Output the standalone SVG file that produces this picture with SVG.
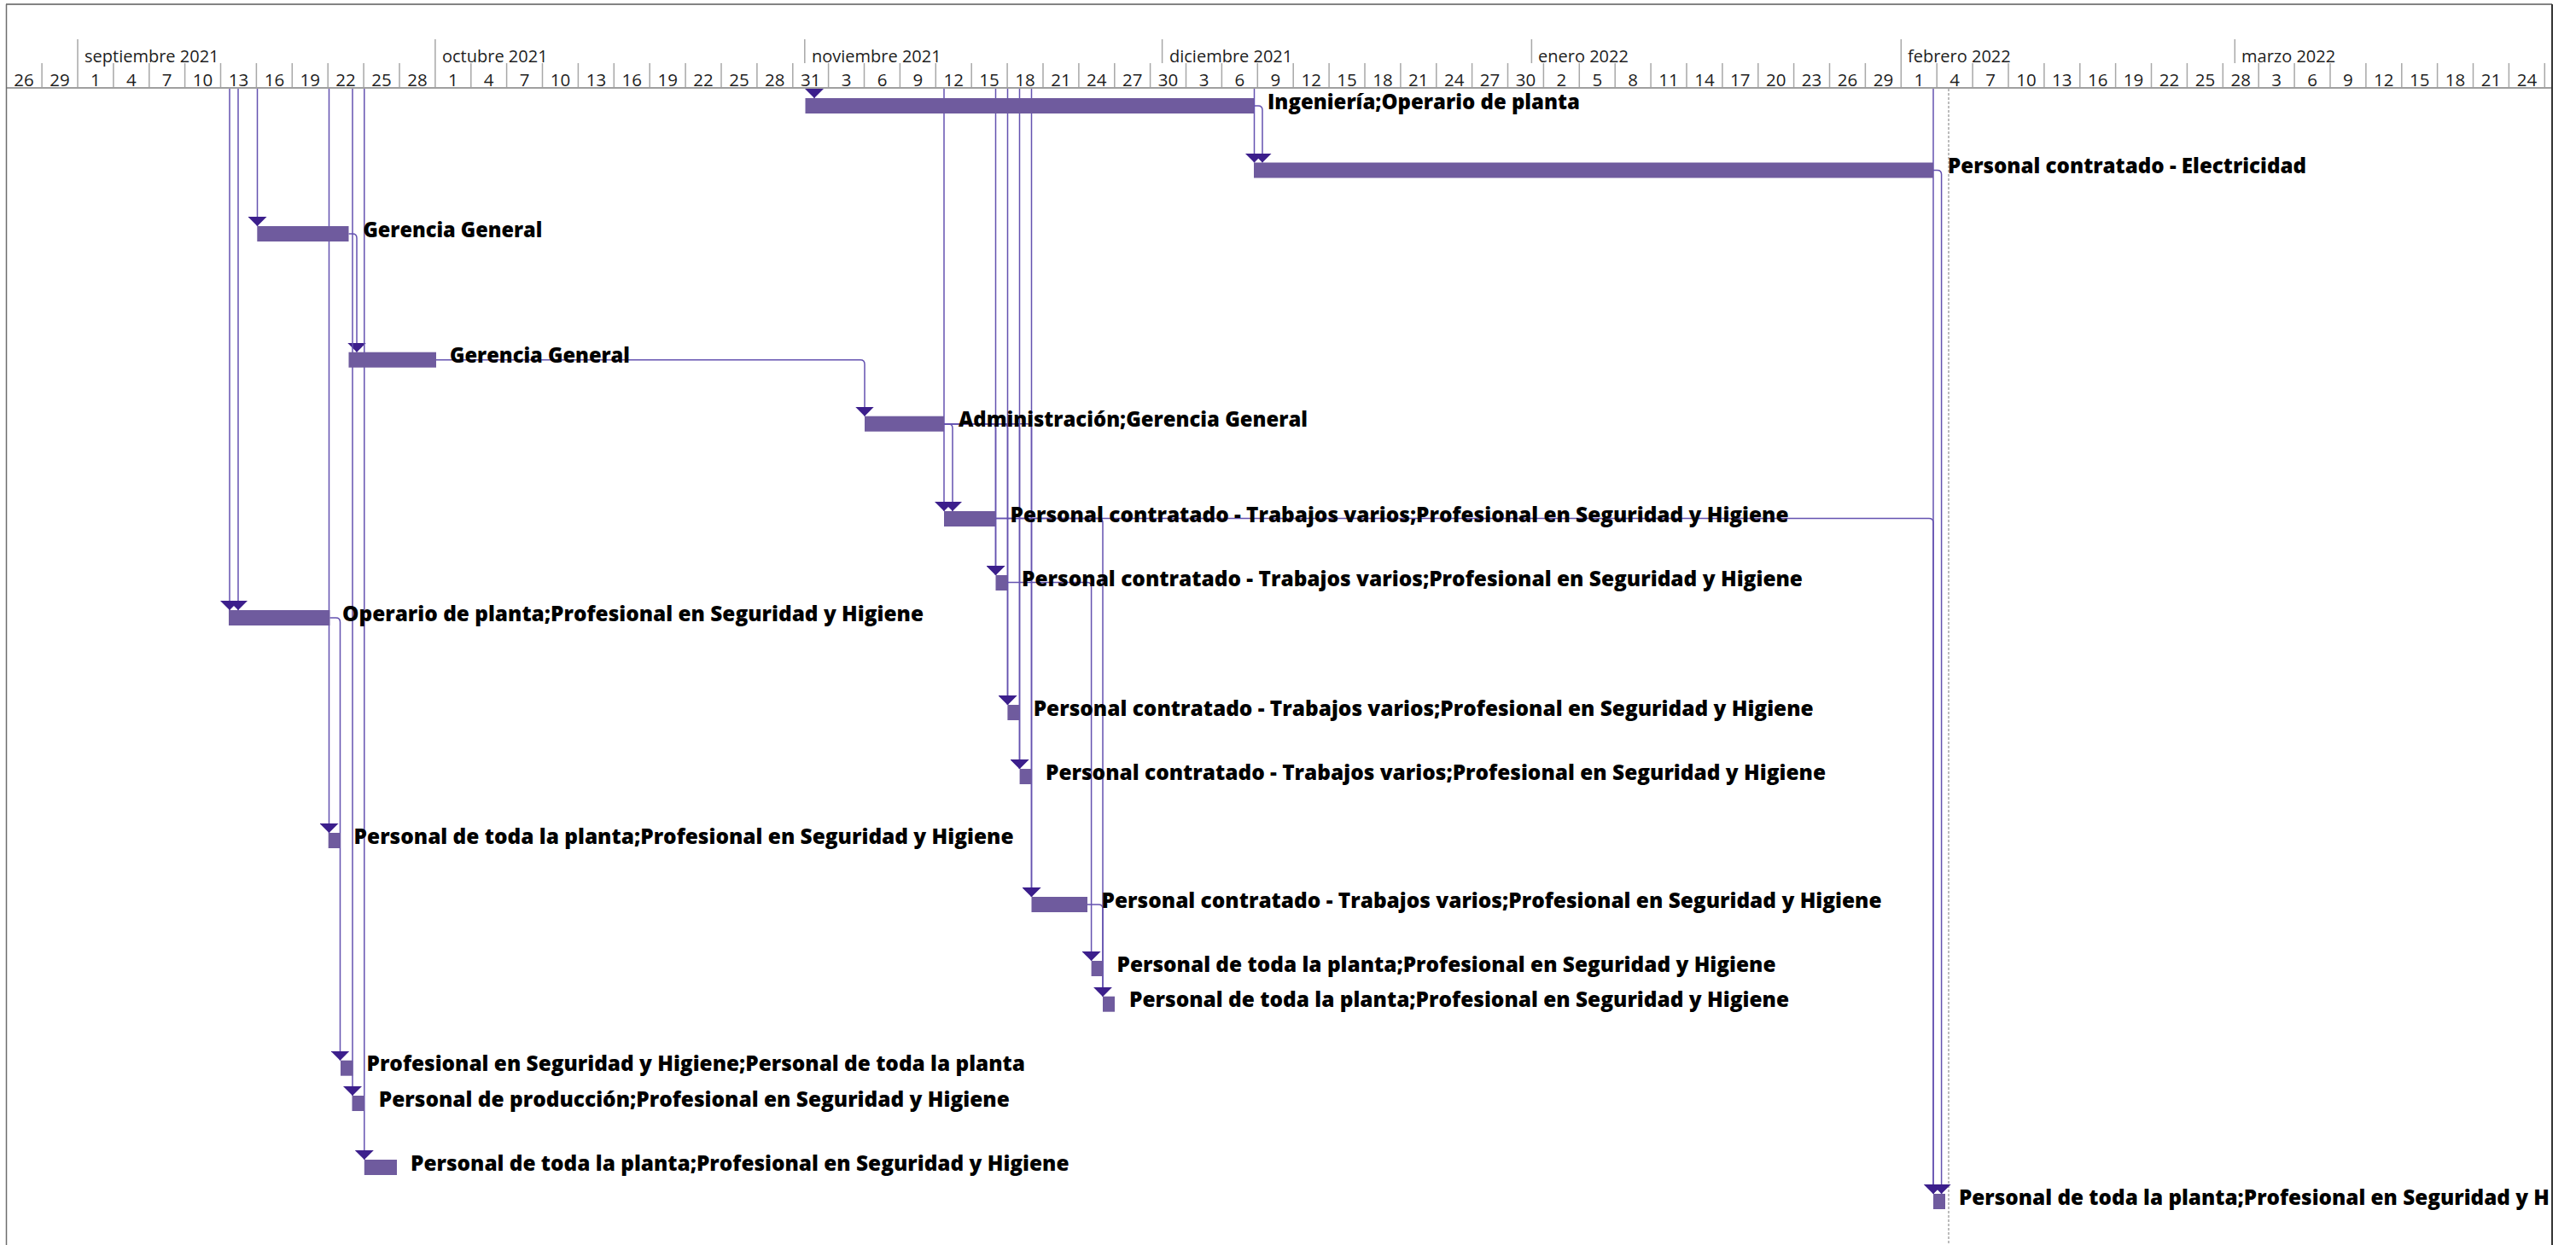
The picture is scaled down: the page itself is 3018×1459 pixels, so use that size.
<svg xmlns="http://www.w3.org/2000/svg" width="3018" height="1459" viewBox="0 0 3018 1459">
<style>
.day{font-family:"Open Sans","Liberation Sans",sans-serif;font-size:20.5px;fill:#1e1e1e;text-anchor:middle}
.mon{font-family:"Open Sans","Liberation Sans",sans-serif;font-size:20px;fill:#1e1e1e}
.lbl{font-family:"Open Sans","Liberation Sans",sans-serif;font-size:25px;font-weight:800;fill:#000}
.bar{fill:#6f5b9e}
.cn{fill:none;stroke:#6452b0;stroke-width:1.5;marker-end:url(#arr)}
.tick{fill:none;stroke:#a8a8a8;stroke-width:1.5}
</style>
<defs>
<marker id="arr" markerUnits="userSpaceOnUse" markerWidth="11" markerHeight="22" viewBox="0 0 11 22" refX="11" refY="11" orient="auto">
<path d="M0,0 L11,11 L0,22 Z" fill="#3c1f8c"/>
</marker>
<clipPath id="frame"><rect x="8" y="104" width="2981" height="1355"/></clipPath>
</defs>
<rect x="0" y="0" width="3018" height="1459" fill="#fff"/>
<g id="header">
<path class="tick" d="M49.1,74V103M91,74V103M132.9,74V103M174.8,74V103M216.6,74V103M258.5,74V103M300.4,74V103M342.3,74V103M384.2,74V103M426.1,74V103M468,74V103M509.9,74V103M551.8,74V103M593.6,74V103M635.5,74V103M677.4,74V103M719.3,74V103M761.2,74V103M803.1,74V103M845,74V103M886.9,74V103M928.8,74V103M970.6,74V103M1012.5,74V103M1054.4,74V103M1096.3,74V103M1138.2,74V103M1180.1,74V103M1222,74V103M1263.9,74V103M1305.8,74V103M1347.6,74V103M1389.5,74V103M1431.4,74V103M1473.3,74V103M1515.2,74V103M1557.1,74V103M1599,74V103M1640.9,74V103M1682.8,74V103M1724.6,74V103M1766.5,74V103M1808.4,74V103M1850.3,74V103M1892.2,74V103M1934.1,74V103M1976,74V103M2017.9,74V103M2059.8,74V103M2101.6,74V103M2143.5,74V103M2185.4,74V103M2227.3,74V103M2269.2,74V103M2311.1,74V103M2353,74V103M2394.9,74V103M2436.8,74V103M2478.6,74V103M2520.5,74V103M2562.4,74V103M2604.3,74V103M2646.2,74V103M2688.1,74V103M2730,74V103M2771.9,74V103M2813.8,74V103M2855.6,74V103M2897.5,74V103M2939.4,74V103M2981.3,74V103"/>
<path class="tick" d="M91,46V74M509.9,46V74M942.8,46V74M1361.6,46V74M1794.4,46V74M2227.3,46V74M2618.3,46V74"/>
<line x1="7" y1="103" x2="2990" y2="103" stroke="#a0a0a0" stroke-width="2"/>
<text class="mon" x="99" y="73">septiembre 2021</text>
<text class="mon" x="518" y="73">octubre 2021</text>
<text class="mon" x="951" y="73">noviembre 2021</text>
<text class="mon" x="1370" y="73">diciembre 2021</text>
<text class="mon" x="1802" y="73">enero 2022</text>
<text class="mon" x="2235" y="73">febrero 2022</text>
<text class="mon" x="2626" y="73">marzo 2022</text>
<text class="day" x="28.1" y="101">26</text>
<text class="day" x="70" y="101">29</text>
<text class="day" x="111.9" y="101">1</text>
<text class="day" x="153.8" y="101">4</text>
<text class="day" x="195.7" y="101">7</text>
<text class="day" x="237.6" y="101">10</text>
<text class="day" x="279.5" y="101">13</text>
<text class="day" x="321.4" y="101">16</text>
<text class="day" x="363.2" y="101">19</text>
<text class="day" x="405.1" y="101">22</text>
<text class="day" x="447" y="101">25</text>
<text class="day" x="488.9" y="101">28</text>
<text class="day" x="530.8" y="101">1</text>
<text class="day" x="572.7" y="101">4</text>
<text class="day" x="614.6" y="101">7</text>
<text class="day" x="656.5" y="101">10</text>
<text class="day" x="698.4" y="101">13</text>
<text class="day" x="740.3" y="101">16</text>
<text class="day" x="782.2" y="101">19</text>
<text class="day" x="824.1" y="101">22</text>
<text class="day" x="865.9" y="101">25</text>
<text class="day" x="907.8" y="101">28</text>
<text class="day" x="949.7" y="101">31</text>
<text class="day" x="991.6" y="101">3</text>
<text class="day" x="1033.5" y="101">6</text>
<text class="day" x="1075.4" y="101">9</text>
<text class="day" x="1117.3" y="101">12</text>
<text class="day" x="1159.1" y="101">15</text>
<text class="day" x="1201" y="101">18</text>
<text class="day" x="1242.9" y="101">21</text>
<text class="day" x="1284.8" y="101">24</text>
<text class="day" x="1326.7" y="101">27</text>
<text class="day" x="1368.6" y="101">30</text>
<text class="day" x="1410.5" y="101">3</text>
<text class="day" x="1452.4" y="101">6</text>
<text class="day" x="1494.3" y="101">9</text>
<text class="day" x="1536.2" y="101">12</text>
<text class="day" x="1578" y="101">15</text>
<text class="day" x="1619.9" y="101">18</text>
<text class="day" x="1661.8" y="101">21</text>
<text class="day" x="1703.7" y="101">24</text>
<text class="day" x="1745.6" y="101">27</text>
<text class="day" x="1787.5" y="101">30</text>
<text class="day" x="1829.4" y="101">2</text>
<text class="day" x="1871.3" y="101">5</text>
<text class="day" x="1913.2" y="101">8</text>
<text class="day" x="1955" y="101">11</text>
<text class="day" x="1996.9" y="101">14</text>
<text class="day" x="2038.8" y="101">17</text>
<text class="day" x="2080.7" y="101">20</text>
<text class="day" x="2122.6" y="101">23</text>
<text class="day" x="2164.5" y="101">26</text>
<text class="day" x="2206.4" y="101">29</text>
<text class="day" x="2248.3" y="101">1</text>
<text class="day" x="2290.2" y="101">4</text>
<text class="day" x="2332.1" y="101">7</text>
<text class="day" x="2373.9" y="101">10</text>
<text class="day" x="2415.8" y="101">13</text>
<text class="day" x="2457.7" y="101">16</text>
<text class="day" x="2499.6" y="101">19</text>
<text class="day" x="2541.5" y="101">22</text>
<text class="day" x="2583.4" y="101">25</text>
<text class="day" x="2625.3" y="101">28</text>
<text class="day" x="2667.2" y="101">3</text>
<text class="day" x="2709" y="101">6</text>
<text class="day" x="2750.9" y="101">9</text>
<text class="day" x="2792.8" y="101">12</text>
<text class="day" x="2834.7" y="101">15</text>
<text class="day" x="2876.6" y="101">18</text>
<text class="day" x="2918.5" y="101">21</text>
<text class="day" x="2960.4" y="101">24</text>
</g>
<line id="status-line" x1="2283" y1="104" x2="2283" y2="1459" stroke="#a6a6a6" stroke-width="1.5" stroke-dasharray="3 2"/>
<g id="connectors">
<path class="cn" d="M954,104V115"/>
<path class="cn" d="M1469.5,104V190.5"/>
<path class="cn" d="M1469,124H1474Q1479,124 1479,129V190.5"/>
<path class="cn" d="M301.5,104V265"/>
<path class="cn" d="M408.5,274H413Q418,274 418,279V412.7"/>
<path class="cn" d="M269,104V715"/>
<path class="cn" d="M279,104V715"/>
<path class="cn" d="M385.5,104V976"/>
<path class="cn" d="M413,104V1284"/>
<path class="cn" d="M426.8,104V1359"/>
<path class="cn" d="M386.4,724H393.5Q398.5,724 398.5,729V1242.7"/>
<path class="cn" d="M511,421.7H1008Q1013,421.7 1013,426.7V487.7"/>
<path class="cn" d="M1106,104V599"/>
<path class="cn" d="M1106,496.7H1111Q1116,496.7 1116,501.7V599"/>
<path class="cn" d="M1166.5,104V674"/>
<path class="cn" d="M1180.5,104V826"/>
<path class="cn" d="M1194.5,104V901"/>
<path class="cn" d="M1208.5,104V1051"/>
<path class="cn" d="M1106,496.7H1161.5Q1166.5,496.7 1166.5,501.7V674"/>
<path class="cn" d="M1106,496.7H1175.5Q1180.5,496.7 1180.5,501.7V826"/>
<path class="cn" d="M1106,496.7H1189.5Q1194.5,496.7 1194.5,501.7V901"/>
<path class="cn" d="M1106,496.7H1203.5Q1208.5,496.7 1208.5,501.7V1051"/>
<path class="cn" d="M1166.5,607.5H1287Q1292,607.5 1292,612.5V1167.7"/>
<path class="cn" d="M1166.5,607.5H2260Q2265,607.5 2265,612.5V1399"/>
<path class="cn" d="M1180.4,682.5H1273.6Q1278.6,682.5 1278.6,687.5V1126"/>
<path class="cn" d="M1274,1060H1287Q1292,1060 1292,1065V1167.7"/>
<path class="cn" d="M2265,104V1399"/>
<path class="cn" d="M2265,199.5H2269.6Q2274.6,199.5 2274.6,204.5V1399"/>
</g>
<g id="task-a"><rect class="bar" x="943.5" y="115" width="525.5" height="18"/><text class="lbl" x="1485" y="127.5" textLength="366" lengthAdjust="spacingAndGlyphs">Ingeniería;Operario de planta</text></g>
<g id="task-b"><rect class="bar" x="1469" y="190.5" width="796" height="18"/><text class="lbl" x="2282" y="203" textLength="420" lengthAdjust="spacingAndGlyphs">Personal contratado - Electricidad</text></g>
<g id="task-c"><rect class="bar" x="301.3" y="265" width="107.2" height="18"/><text class="lbl" x="425.4" y="277.5" textLength="210" lengthAdjust="spacingAndGlyphs">Gerencia General</text></g>
<g id="task-d"><rect class="bar" x="408.5" y="412.7" width="102.5" height="18"/><text class="lbl" x="527" y="425.2" textLength="211" lengthAdjust="spacingAndGlyphs">Gerencia General</text></g>
<g id="task-e"><rect class="bar" x="1013" y="487.7" width="93" height="18"/><text class="lbl" x="1123" y="500.2" textLength="409" lengthAdjust="spacingAndGlyphs">Administración;Gerencia General</text></g>
<g id="task-f"><rect class="bar" x="1106" y="599" width="60.5" height="18"/><text class="lbl" x="1183.5" y="611.5" textLength="912" lengthAdjust="spacingAndGlyphs">Personal contratado - Trabajos varios;Profesional en Seguridad y Higiene</text></g>
<g id="task-g"><rect class="bar" x="1166.5" y="674" width="13.9" height="18"/><text class="lbl" x="1197" y="686.5" textLength="915" lengthAdjust="spacingAndGlyphs">Personal contratado - Trabajos varios;Profesional en Seguridad y Higiene</text></g>
<g id="task-h"><rect class="bar" x="268" y="715" width="118.4" height="18"/><text class="lbl" x="401" y="727.5" textLength="681" lengthAdjust="spacingAndGlyphs">Operario de planta;Profesional en Seguridad y Higiene</text></g>
<g id="task-i"><rect class="bar" x="1180.4" y="826" width="14.2" height="18"/><text class="lbl" x="1210.7" y="838.5" textLength="914" lengthAdjust="spacingAndGlyphs">Personal contratado - Trabajos varios;Profesional en Seguridad y Higiene</text></g>
<g id="task-j"><rect class="bar" x="1194.6" y="901" width="13.9" height="18"/><text class="lbl" x="1225" y="913.5" textLength="914" lengthAdjust="spacingAndGlyphs">Personal contratado - Trabajos varios;Profesional en Seguridad y Higiene</text></g>
<g id="task-k"><rect class="bar" x="384.7" y="976" width="14.1" height="18"/><text class="lbl" x="414.6" y="988.5" textLength="773" lengthAdjust="spacingAndGlyphs">Personal de toda la planta;Profesional en Seguridad y Higiene</text></g>
<g id="task-l"><rect class="bar" x="1208.5" y="1051" width="65.5" height="18"/><text class="lbl" x="1290.6" y="1063.5" textLength="914" lengthAdjust="spacingAndGlyphs">Personal contratado - Trabajos varios;Profesional en Seguridad y Higiene</text></g>
<g id="task-m"><rect class="bar" x="1278.6" y="1126" width="13.4" height="18"/><text class="lbl" x="1308.5" y="1138.5" textLength="772" lengthAdjust="spacingAndGlyphs">Personal de toda la planta;Profesional en Seguridad y Higiene</text></g>
<g id="task-n"><rect class="bar" x="1292" y="1167.7" width="14" height="18"/><text class="lbl" x="1323" y="1180.2" textLength="773" lengthAdjust="spacingAndGlyphs">Personal de toda la planta;Profesional en Seguridad y Higiene</text></g>
<g id="task-o"><rect class="bar" x="399" y="1242.7" width="14.4" height="18"/><text class="lbl" x="429.5" y="1255.2" textLength="771.5" lengthAdjust="spacingAndGlyphs">Profesional en Seguridad y Higiene;Personal de toda la planta</text></g>
<g id="task-p"><rect class="bar" x="412.5" y="1284" width="14.3" height="18"/><text class="lbl" x="443.8" y="1296.5" textLength="739" lengthAdjust="spacingAndGlyphs">Personal de producción;Profesional en Seguridad y Higiene</text></g>
<g id="task-q"><rect class="bar" x="426.8" y="1359" width="38.2" height="18"/><text class="lbl" x="481" y="1371.5" textLength="771.5" lengthAdjust="spacingAndGlyphs">Personal de toda la planta;Profesional en Seguridad y Higiene</text></g>
<g id="task-r"><rect class="bar" x="2265" y="1399" width="14" height="18"/><text class="lbl" x="2295" y="1411.5" textLength="692" lengthAdjust="spacingAndGlyphs" clip-path="url(#frame)">Personal de toda la planta;Profesional en Seguridad y H</text></g>
<g id="frame-lines">
<line x1="7" y1="5" x2="2990" y2="5" stroke="#5a5a5a" stroke-width="1.5"/>
<line x1="7.5" y1="5" x2="7.5" y2="1459" stroke="#6e6e6e" stroke-width="1.5"/>
<line x1="2990" y1="5" x2="2990" y2="1459" stroke="#333" stroke-width="2"/>
</g>
</svg>
